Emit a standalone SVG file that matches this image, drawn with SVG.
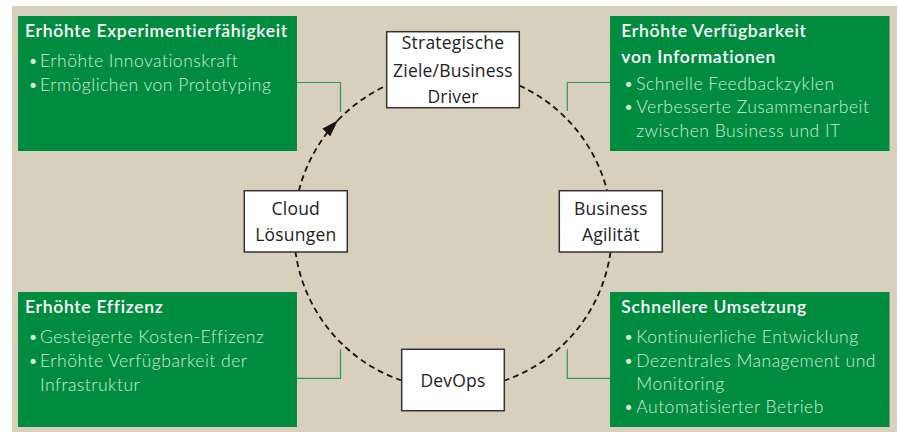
<svg xmlns="http://www.w3.org/2000/svg" width="898" height="432" viewBox="0 0 898 432">
  <defs>
    <marker id="arrow" markerUnits="userSpaceOnUse" viewBox="0 0 17 11" refX="17" refY="5.5" markerWidth="17" markerHeight="11" orient="auto">
      <path d="M0,0 L17,5.5 L0,11 Z" fill="#141414"/>
    </marker>
    <style>
      .panel { fill: #008c3f; }
      .title { font-family: Lato, "Liberation Sans", sans-serif; font-size: 17.5px; font-weight: 600; letter-spacing: 0.7px; fill: #ffffff; }
      .item { font-family: Lato, "Liberation Sans", sans-serif; font-size: 17.5px; font-weight: 300; letter-spacing: 0.5px; fill: #d3ebd8; }
      .node rect { fill: #ffffff; stroke: #333333; stroke-width: 1.5; }
      .node text { font-family: "Open Sans", "Liberation Sans", sans-serif; font-size: 17.5px; letter-spacing: 0.2px; fill: #222222; text-anchor: middle; }
      .cycle { fill: none; stroke: #141414; stroke-width: 1.8; stroke-dasharray: 6 4; }
      .link { fill: none; stroke: #22a055; stroke-width: 1.2; }
    </style>
  </defs>

  <!-- background -->
  <rect x="12" y="6" width="885" height="426" fill="#d8cfbd"/>

  <!-- connectors: dashed cycle and green leader lines -->
  <g id="connectors">
    <path class="cycle" d="M298.9,190.7 A159,159 0 0 1 338,120.2" marker-end="url(#arrow)"/>
    <path class="cycle" d="M338,120.2 A159,159 0 0 1 386.7,85.5"/>
    <path class="cycle" d="M519.3,85.5 A159,159 0 0 1 607.1,190.7"/>
    <path class="cycle" d="M610.5,252 A159,159 0 0 1 504.3,380.5"/>
    <path class="cycle" d="M401.7,380.5 A159,159 0 0 1 295.5,252"/>
    <path class="link" d="M297,82.5 H340.5 V112"/>
    <path class="link" d="M610,82.5 H567.3 V111"/>
    <path class="link" d="M297,378.3 H340.5 V349.3"/>
    <path class="link" d="M610,378.3 H567.3 V349.3"/>
  </g>

  <!-- benefit panels -->
  <g id="panel-experiment">
    <rect class="panel" x="18" y="16" width="279" height="135"/>
    <text class="title" x="25" y="36.7">Erhöhte Experimentierfähigkeit</text>
    <text class="item" x="28" y="66.7">•</text>
    <text class="item" x="40" y="66.7">Erhöhte Innovationskraft</text>
    <text class="item" x="28" y="90.7">•</text>
    <text class="item" x="40" y="90.7">Ermöglichen von Prototyping</text>
  </g>

  <g id="panel-information">
    <rect class="panel" x="610" y="16" width="279.5" height="135"/>
    <text class="title" x="621.3" y="36.7">Erhöhte Verfügbarkeit</text>
    <text class="title" x="621.3" y="63.3">von Informationen</text>
    <text class="item" x="623.5" y="90">•</text>
    <text class="item" x="636.3" y="90">Schnelle Feedbackzyklen</text>
    <text class="item" x="623.5" y="113.3">•</text>
    <text class="item" x="636.3" y="113.3">Verbesserte Zusammenarbeit</text>
    <text class="item" x="636.3" y="136.7">zwischen Business und IT</text>
  </g>

  <g id="panel-efficiency">
    <rect class="panel" x="18" y="292" width="279" height="135"/>
    <text class="title" x="25" y="312.7">Erhöhte Effizenz</text>
    <text class="item" x="28" y="343.3">•</text>
    <text class="item" x="40" y="343.3">Gesteigerte Kosten-Effizenz</text>
    <text class="item" x="28" y="366.7">•</text>
    <text class="item" x="40" y="366.7">Erhöhte Verfügbarkeit der</text>
    <text class="item" x="40" y="390.7">Infrastruktur</text>
  </g>

  <g id="panel-delivery">
    <rect class="panel" x="610" y="292" width="279.5" height="135"/>
    <text class="title" x="621.3" y="313.3">Schnellere Umsetzung</text>
    <text class="item" x="623.5" y="343.3">•</text>
    <text class="item" x="636.3" y="343.3">Kontinuierliche Entwicklung</text>
    <text class="item" x="623.5" y="366.7">•</text>
    <text class="item" x="636.3" y="366.7">Dezentrales Management und</text>
    <text class="item" x="636.3" y="390">Monitoring</text>
    <text class="item" x="623.5" y="413.3">•</text>
    <text class="item" x="636.3" y="413.3">Automatisierter Betrieb</text>
  </g>

  <!-- cycle nodes -->
  <g id="node-strategy" class="node">
    <rect x="386.7" y="31.7" width="132.6" height="76"/>
    <text x="453" y="49.3">Strategische</text>
    <text x="453" y="76.7">Ziele/Business</text>
    <text x="453" y="102.7">Driver</text>
  </g>

  <g id="node-cloud" class="node">
    <rect x="244.3" y="190.7" width="103" height="61.3"/>
    <text x="295.8" y="215">Cloud</text>
    <text x="295.8" y="241">Lösungen</text>
  </g>

  <g id="node-agility" class="node">
    <rect x="559.3" y="190.7" width="103" height="61.3"/>
    <text x="610.8" y="215">Business</text>
    <text x="610.8" y="241">Agilität</text>
  </g>

  <g id="node-devops" class="node">
    <rect x="401.7" y="349.3" width="102.6" height="61.4"/>
    <text x="453" y="387">DevOps</text>
  </g>
</svg>
